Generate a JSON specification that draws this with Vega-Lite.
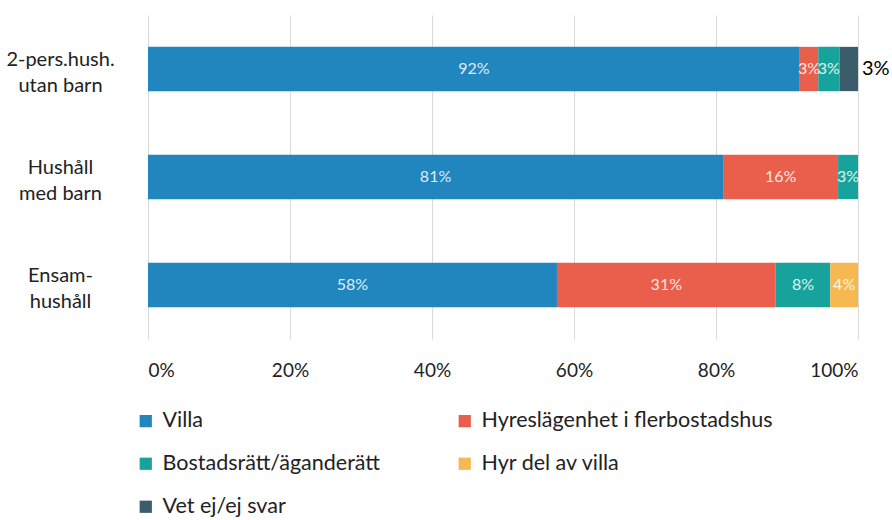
{
  "$schema": "https://vega.github.io/schema/vega-lite/v6.json",
  "width": 710,
  "height": 324,
  "autosize": "none",
  "padding": {"left": 148, "top": 15, "right": 34, "bottom": 181},
  "background": "white",
  "config": {"view": {"stroke": null}, "font": "Lato"},
  "data": {
    "values": [
      {"cat": "2-pers.hush.|utan barn", "type": "Villa", "value": 91.8},
      {"cat": "2-pers.hush.|utan barn", "type": "Hyreslägenhet i flerbostadshus", "value": 2.6},
      {"cat": "2-pers.hush.|utan barn", "type": "Bostadsrätt/äganderätt", "value": 3.0},
      {"cat": "2-pers.hush.|utan barn", "type": "Hyr del av villa", "value": 0},
      {"cat": "2-pers.hush.|utan barn", "type": "Vet ej/ej svar", "value": 2.6},
      {"cat": "Hushåll|med barn", "type": "Villa", "value": 81.0},
      {"cat": "Hushåll|med barn", "type": "Hyreslägenhet i flerbostadshus", "value": 16.2},
      {"cat": "Hushåll|med barn", "type": "Bostadsrätt/äganderätt", "value": 2.8},
      {"cat": "Hushåll|med barn", "type": "Hyr del av villa", "value": 0},
      {"cat": "Hushåll|med barn", "type": "Vet ej/ej svar", "value": 0},
      {"cat": "Ensam-|hushåll", "type": "Villa", "value": 57.6},
      {"cat": "Ensam-|hushåll", "type": "Hyreslägenhet i flerbostadshus", "value": 30.8},
      {"cat": "Ensam-|hushåll", "type": "Bostadsrätt/äganderätt", "value": 7.7},
      {"cat": "Ensam-|hushåll", "type": "Hyr del av villa", "value": 3.9},
      {"cat": "Ensam-|hushåll", "type": "Vet ej/ej svar", "value": 0}
    ]
  },
  "transform": [
    {"calculate": "indexof(['Villa','Hyreslägenhet i flerbostadshus','Bostadsrätt/äganderätt','Hyr del av villa','Vet ej/ej svar'], datum.type)", "as": "k"},
    {"stack": "value", "groupby": ["cat"], "sort": [{"field": "k", "order": "ascending"}], "as": ["v0", "v1"]},
    {"calculate": "(datum.v0 + datum.v1) / 2", "as": "mid"},
    {"calculate": "format(datum.value, '.0f') + '%'", "as": "lbl"}
  ],
  "encoding": {
    "y": {
      "field": "cat",
      "type": "nominal",
      "sort": ["2-pers.hush.|utan barn", "Hushåll|med barn", "Ensam-|hushåll"],
      "scale": {"paddingInner": 0.59, "paddingOuter": 0.295},
      "axis": {
        "title": null,
        "domain": false,
        "ticks": false,
        "tickSize": 0,
        "labelExpr": "split(datum.label, '|')",
        "labelAlign": "center",
        "labelPadding": 88,
        "labelOffset": -9,
        "labelFontSize": 20,
        "labelColor": "#222222",
        "labelLineHeight": 26
      }
    }
  },
  "layer": [
    {
      "mark": {"type": "bar"},
      "encoding": {
        "x": {
          "field": "v0",
          "type": "quantitative",
          "scale": {"domain": [0, 100]},
          "axis": {
            "title": null,
            "values": [0, 20, 40, 60, 80, 100],
            "labelExpr": "datum.value + '%'",
            "domain": false,
            "ticks": false,
            "tickSize": 0,
            "grid": true,
            "gridColor": "#d9d9d9",
            "labelFontSize": 19,
            "labelColor": "#222222",
            "labelPadding": 22
          }
        },
        "x2": {"field": "v1"},
        "color": {
          "field": "type",
          "type": "nominal",
          "scale": {
            "domain": ["Villa", "Hyreslägenhet i flerbostadshus", "Bostadsrätt/äganderätt", "Hyr del av villa", "Vet ej/ej svar"],
            "range": ["#2185be", "#e95f4b", "#17a39b", "#f6b952", "#3b5c6a"]
          },
          "legend": {
            "title": null,
            "orient": "none",
            "legendX": -13,
            "legendY": 395,
            "columns": 2,
            "direction": "horizontal",
            "symbolType": "square",
            "symbolSize": 150,
            "symbolStrokeWidth": 0,
            "labelFontSize": 21.5,
            "labelColor": "#222222",
            "labelLimit": 400,
            "labelOffset": 6,
            "rowPadding": 20,
            "columnPadding": 73
          }
        }
      }
    },
    {
      "transform": [{"filter": "datum.value > 0 && !(datum.type == 'Vet ej/ej svar')"}],
      "mark": {"type": "text", "color": "#ffffff", "opacity": 0.85, "fontSize": 16, "baseline": "middle", "align": "center"},
      "encoding": {
        "x": {"field": "mid", "type": "quantitative"},
        "text": {"field": "lbl", "type": "nominal"}
      }
    },
    {
      "transform": [{"filter": "datum.value > 0 && datum.type == 'Vet ej/ej svar'"}],
      "mark": {"type": "text", "color": "#000000", "fontSize": 20, "baseline": "middle", "align": "left", "dx": 4},
      "encoding": {
        "x": {"field": "v1", "type": "quantitative"},
        "text": {"field": "lbl", "type": "nominal"}
      }
    }
  ]
}
